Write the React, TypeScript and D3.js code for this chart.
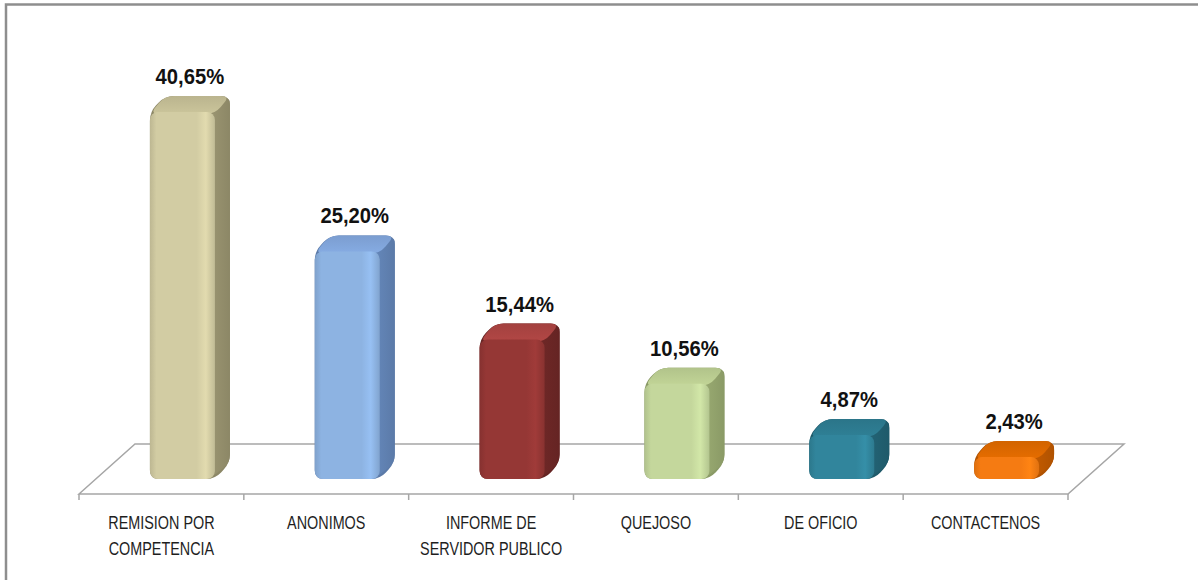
import React from "react";
import * as d3 from "d3";

const categories = [
  ["REMISION POR", "COMPETENCIA"],
  ["ANONIMOS"],
  ["INFORME DE", "SERVIDOR PUBLICO"],
  ["QUEJOSO"],
  ["DE OFICIO"],
  ["CONTACTENOS"],
];
const values = [40.65, 25.2, 15.44, 10.56, 4.87, 2.43];
const valueLabels = ["40,65%", "25,20%", "15,44%", "10,56%", "4,87%", "2,43%"];
const frontColors = ["#d2cca3", "#8db3e2", "#953735", "#c4d79c", "#31859c", "#f57b12"];
const sideColors = ["#8c8766", "#5b7aa8", "#652423", "#8a9a66", "#1f5a6a", "#b05200"];
const topColors = ["#bab48e", "#7b9dd0", "#a3413f", "#b1c38a", "#2b7589", "#d26400"];

const W = 1198;
const H = 580;
const FONT = "'Liberation Sans', Arial, sans-serif";

function roundedPoly(pts: [number, number][], r: number): string {
  const n = pts.length;
  let d = "";
  for (let i = 0; i < n; i++) {
    const p0 = pts[(i - 1 + n) % n];
    const p1 = pts[i];
    const p2 = pts[(i + 1) % n];
    const v1 = [p0[0] - p1[0], p0[1] - p1[1]];
    const v2 = [p2[0] - p1[0], p2[1] - p1[1]];
    const l1 = Math.hypot(v1[0], v1[1]);
    const l2 = Math.hypot(v2[0], v2[1]);
    const rr = Math.min(r, l1 / 2, l2 / 2);
    const a = [p1[0] + (v1[0] / l1) * rr, p1[1] + (v1[1] / l1) * rr];
    const b = [p1[0] + (v2[0] / l2) * rr, p1[1] + (v2[1] / l2) * rr];
    d += (i === 0 ? "M" : "L") + a[0] + "," + a[1] + " Q" + p1[0] + "," + p1[1] + " " + b[0] + "," + b[1];
  }
  return d + "Z";
}

export default function App() {
  const floorFrontY = 494;
  const floorBackY = 444;
  const floorDX = 56;
  const x = d3
    .scaleBand<number>()
    .domain(d3.range(categories.length))
    .range([79, 1068])
    .paddingInner(0)
    .paddingOuter(0);
  const baseY = 479;
  const y = d3.scaleLinear().domain([0, 45]).range([baseY, baseY - 45 * 9.03]);
  const barW = 65;
  const dx = 15;
  const dy = -16;
  const offset = 21;
  const ticks = d3.range(categories.length + 1).map((i) => 79 + i * x.bandwidth());

  return (
    <svg
      width={W}
      height={H}
      style={{ position: "absolute", left: 0, top: 0, background: "#fff" }}
      fontFamily={FONT}
    >
      <defs>
        {frontColors.map((c, i) => {
          const base = d3.color(c)!;
          return (
            <React.Fragment key={i}>
              <linearGradient id={"front" + i} x1="0" y1="0" x2="1" y2="0">
                <stop offset="0" stopColor={base.darker(0.3).toString()} />
                <stop offset="0.1" stopColor={c} />
                <stop offset="0.72" stopColor={c} />
                <stop offset="0.86" stopColor={base.brighter(0.2).toString()} />
                <stop offset="1" stopColor={base.darker(0.25).toString()} />
              </linearGradient>
              <linearGradient id={"side" + i} x1="0" y1="0" x2="1" y2="0">
                <stop offset="0" stopColor={d3.color(sideColors[i])!.brighter(0.3).toString()} />
                <stop offset="1" stopColor={sideColors[i]} />
              </linearGradient>
              <linearGradient id={"top" + i} x1="0" y1="0" x2="0" y2="1">
                <stop offset="0" stopColor={topColors[i]} />
                <stop offset="1" stopColor={d3.color(topColors[i])!.brighter(0.25).toString()} />
              </linearGradient>
            </React.Fragment>
          );
        })}
      </defs>
      {/* frame */}
      <rect x={6} y={4.5} width={W + 20} height={H + 20} fill="none" stroke="#8e8e8e" strokeWidth={2.5} />
      {/* floor */}
      <path
        d={`M${79},${floorFrontY} L${79 + floorDX},${floorBackY} L${1068 + floorDX},${floorBackY} L${1068},${floorFrontY} Z`}
        fill="none"
        stroke="#a6a6a6"
        strokeWidth={1.5}
      />
      {ticks.map((t, i) => (
        <line key={i} x1={t} x2={t} y1={floorFrontY} y2={floorFrontY + 6} stroke="#a6a6a6" strokeWidth={1.5} />
      ))}
      {/* bars */}
      {values.map((v, i) => {
        const cx = x(i)! + x.bandwidth() / 2 + offset;
        const x0 = cx - barW / 2;
        const x1 = cx + barW / 2;
        const yt = y(v);
        const yb = y(0);
        const sil: [number, number][] = [
          [x0, yt],
          [x0 + dx, yt + dy],
          [x1 + dx, yt + dy],
          [x1 + dx, yb + dy],
          [x1, yb],
          [x0, yb],
        ];
        const side: [number, number][] = [
          [x1 - 6, yt],
          [x1 + dx, yt + dy],
          [x1 + dx, yb + dy],
          [x1 - 6, yb],
        ];
        const top: [number, number][] = [
          [x0, yt + 2],
          [x0 + dx, yt + dy],
          [x1 + dx, yt + dy],
          [x1, yt + 2],
        ];
        return (
          <g key={i}>
            <path d={roundedPoly(sil, 9)} fill={sideColors[i]} />
            <path d={roundedPoly(side, 8)} fill={`url(#side${i})`} />
            <path d={roundedPoly(top, 9)} fill={`url(#top${i})`} />
            <rect x={x0} y={yt} width={barW} height={yb - yt} rx={8} ry={8} fill={`url(#front${i})`} />
            <g transform={`translate(${cx + dx / 2},${yt + dy - 12}) scale(0.92,1)`}>
              <text x={0} y={0} textAnchor="middle" fontSize={22} fontWeight="bold" fill="#111">
                {valueLabels[i]}
              </text>
            </g>
          </g>
        );
      })}
      {/* category labels */}
      {categories.map((lines, i) => (
        <g key={i} transform={`translate(${x(i)! + x.bandwidth() / 2},529) scale(0.8,1)`}>
          <text textAnchor="middle" fontSize={18} fill="#1e1e1e">
            {lines.map((l, j) => (
              <tspan key={j} x={0} y={j * 26}>
                {l}
              </tspan>
            ))}
          </text>
        </g>
      ))}
    </svg>
  );
}
